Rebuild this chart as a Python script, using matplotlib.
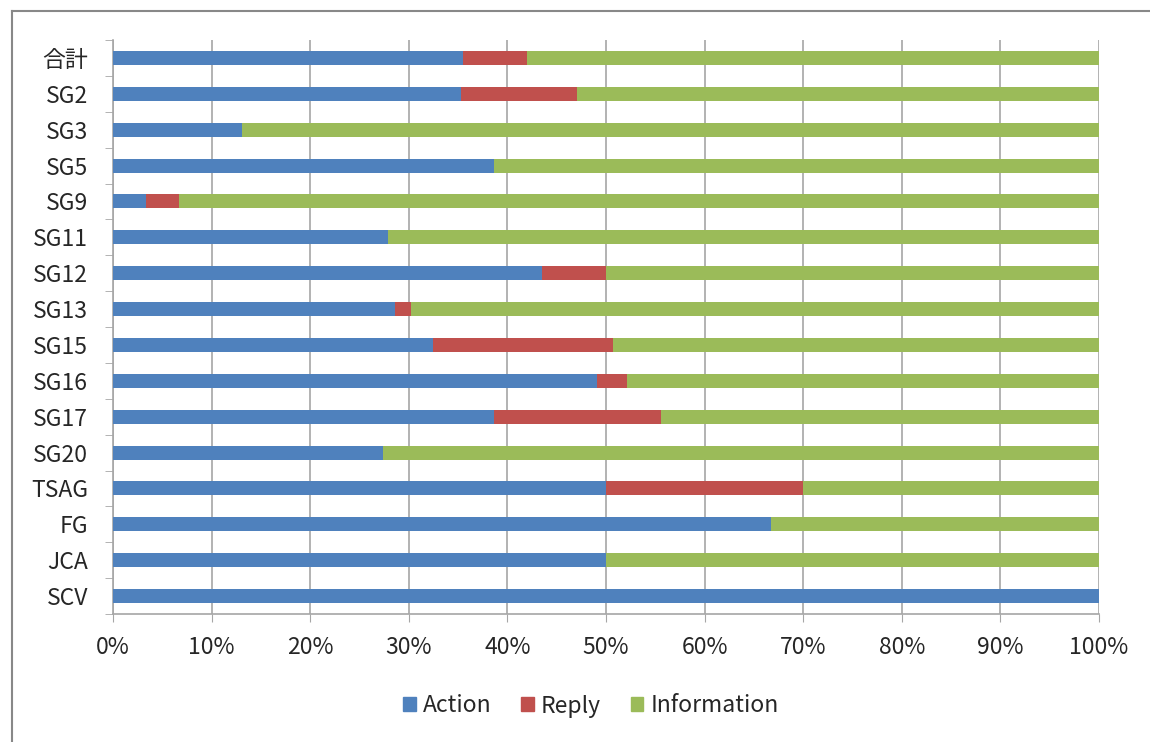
import matplotlib.pyplot as plt
from matplotlib.patches import Patch
from matplotlib.lines import Line2D
import numpy as np

plt.rcParams['font.family'] = ['Noto Sans CJK JP', 'DejaVu Sans']

kategorije = ["合計", "SG2", "SG3", "SG5", "SG9", "SG11", "SG12", "SG13",
              "SG15", "SG16", "SG17", "SG20", "TSAG", "FG", "JCA", "SCV"]
action = [35.5, 35.3, 13.1, 38.6, 3.3, 27.9, 43.5, 28.6,
          32.5, 49.1, 38.6, 27.4, 50.0, 66.7, 50.0, 100.0]
reply = [6.5, 11.8, 0.0, 0.0, 3.4, 0.0, 6.5, 1.6,
         18.2, 3.0, 17.0, 0.0, 20.0, 0.0, 0.0, 0.0]
information = [100 - a - r for a, r in zip(action, reply)]

boje = {"Action": "#4F81BD", "Reply": "#C0504D", "Information": "#9BBB59"}
siva = "#a6a6a6"
tekst = "#262626"

fig = plt.figure(figsize=(11.5, 7.42), dpi=100)
ax = fig.add_axes([113/1150, 1 - 614/742, 986/1150, 574/742])

y = np.arange(len(kategorije))
visina = 0.39
ax.barh(y, action, height=visina, color=boje["Action"], zorder=3)
ax.barh(y, reply, left=action, height=visina, color=boje["Reply"], zorder=3)
lijevo = [a + r for a, r in zip(action, reply)]
ax.barh(y, information, left=lijevo, height=visina, color=boje["Information"], zorder=3)

ax.set_xlim(0, 100)
ax.set_ylim(len(kategorije) - 0.5, -0.5)
ax.set_xticks(np.arange(0, 101, 10))
ax.set_xticklabels([f"{v}%" for v in range(0, 101, 10)])
ax.set_yticks(y)
ax.set_yticklabels(kategorije)
ax.set_yticks(np.arange(-0.5, len(kategorije)), minor=True)

ax.tick_params(axis='y', which='major', length=0, pad=18, labelsize=16.5, labelcolor=tekst)
ax.tick_params(axis='y', which='minor', length=6, color=siva, direction='out')
ax.tick_params(axis='x', which='major', length=6, color=siva, pad=10, labelsize=16.5, labelcolor=tekst)

ax.grid(axis='x', color=siva, linewidth=1.2, zorder=0)
for s in ["top", "right"]:
    ax.spines[s].set_visible(False)
for s in ["left", "bottom"]:
    ax.spines[s].set_color(siva)
    ax.spines[s].set_linewidth(1.2)

handles = [Patch(color=c, label=k) for k, c in boje.items()]
fig.legend(handles=handles, loc='center', bbox_to_anchor=(591/1150, 1 - 706/742),
           ncol=3, frameon=False, fontsize=16.5, handlelength=0.55, handleheight=0.55,
           handletextpad=0.3, columnspacing=1.3, labelcolor=tekst)

# okvir slike
fig.add_artist(Line2D([12/1150, 1], [1 - 11/742, 1 - 11/742], color='#888888', linewidth=1.5))
fig.add_artist(Line2D([12/1150, 12/1150], [0, 1 - 11/742], color='#888888', linewidth=1.5))

plt.savefig("out.png", dpi=100)
